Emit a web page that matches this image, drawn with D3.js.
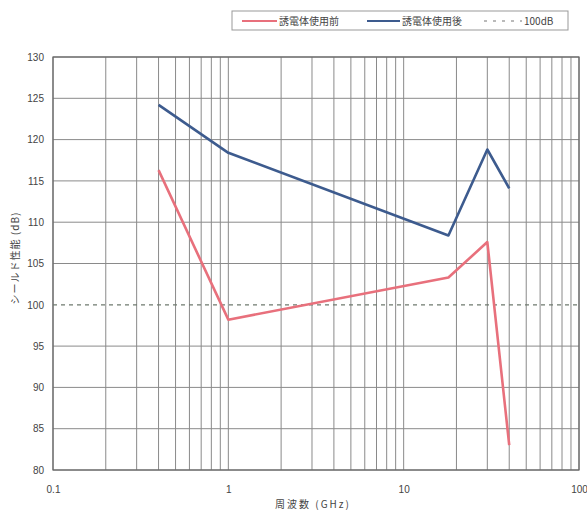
<!DOCTYPE html>
<html>
<head>
<meta charset="utf-8">
<script src="https://cdn.jsdelivr.net/npm/d3@7"></script>
<style>
  body { margin: 0; background: #fff; }
  svg { display: block; font-family: "Noto Sans CJK JP", "Liberation Sans", sans-serif; }
</style>
</head>
<body>
<svg id="chart" width="587" height="513"></svg>
<script>
// Frequencies (GHz) and shielding performance (dB)
const freqs = [0.4, 1, 18, 30, 40];
const before = [116.3, 98.2, 103.3, 107.6, 83.0];
const after = [124.2, 118.4, 108.4, 118.8, 114.1];
const refLevel = 100;
const yTicks = [80, 85, 90, 95, 100, 105, 110, 115, 120, 125, 130];
const xTickLabels = [0.1, 1, 10, 100];
const seriesNames = ["誘電体使用前", "誘電体使用後", "100dB"];

(function () {
  const svg = d3.select("#chart");
  const pl = 53, pr = 579, pt = 57, pb = 470;

  const x = d3.scaleLog().domain([0.1, 100]).range([pl, pr]);
  const y = d3.scaleLinear().domain([80, 130]).range([pb, pt]);

  const red = "#e8707c", blue = "#3d5b8e", grid = "#8a8a8a";

  // vertical grid: every minor decade step
  const minor = [];
  for (let d = 0.1; d < 100; d *= 10) {
    for (let k = 1; k <= 9; k++) minor.push(+(d * k).toPrecision(3));
  }
  minor.push(100);
  svg.append("g").selectAll("line").data(minor).join("line")
    .attr("x1", d => x(d)).attr("x2", d => x(d))
    .attr("y1", pt).attr("y2", pb)
    .attr("stroke", grid).attr("stroke-width", 1);

  // horizontal grid
  svg.append("g").selectAll("line").data(yTicks.filter(v => v !== refLevel)).join("line")
    .attr("x1", pl).attr("x2", pr)
    .attr("y1", d => y(d)).attr("y2", d => y(d))
    .attr("stroke", grid).attr("stroke-width", 1);

  // frame
  svg.append("rect").attr("x", pl).attr("y", pt)
    .attr("width", pr - pl).attr("height", pb - pt)
    .attr("fill", "none").attr("stroke", "#666").attr("stroke-width", 1.2);

  // 100 dB reference line
  svg.append("line")
    .attr("x1", pl).attr("x2", pr)
    .attr("y1", y(refLevel)).attr("y2", y(refLevel))
    .attr("stroke", "#6f7a6f").attr("stroke-width", 1.3)
    .attr("stroke-dasharray", "4,4");

  // y axis labels
  const yAxis = d3.axisLeft(y).tickValues(yTicks).tickSize(0).tickPadding(9);
  const gy = svg.append("g").attr("transform", `translate(${pl},0)`).call(yAxis);
  gy.select(".domain").remove();
  gy.selectAll("text").attr("font-size", 10).attr("fill", "#444")
    .attr("font-family", "Liberation Sans, sans-serif");

  // x axis labels
  const xAxis = d3.axisBottom(x).tickValues(xTickLabels).tickSize(0).tickPadding(16)
    .tickFormat(d => String(d));
  const gx = svg.append("g").attr("transform", `translate(0,${pb})`).call(xAxis);
  gx.select(".domain").remove();
  gx.selectAll("text").attr("font-size", 10).attr("fill", "#444")
    .attr("font-family", "Liberation Sans, sans-serif");

  // axis titles
  svg.append("text").attr("x", 313).attr("y", 508)
    .attr("text-anchor", "middle").attr("font-size", 10).attr("fill", "#444")
    .attr("letter-spacing", 2)
    .text("周波数 (GHz)");
  svg.append("text")
    .attr("transform", "translate(19,258) rotate(-90)")
    .attr("text-anchor", "middle").attr("font-size", 10).attr("fill", "#444")
    .attr("letter-spacing", 1)
    .text("シールド性能 (dB)");

  // series lines
  const line = d3.line().x(d => x(d[0])).y(d => y(d[1]));
  svg.append("path").datum(freqs.map((f, i) => [f, before[i]]))
    .attr("d", line).attr("fill", "none")
    .attr("stroke", red).attr("stroke-width", 2.6).attr("stroke-linejoin", "round");
  svg.append("path").datum(freqs.map((f, i) => [f, after[i]]))
    .attr("d", line).attr("fill", "none")
    .attr("stroke", blue).attr("stroke-width", 2.6).attr("stroke-linejoin", "round");

  // legend
  const lg = svg.append("g");
  lg.append("rect").attr("x", 232).attr("y", 11).attr("width", 336).attr("height", 19)
    .attr("fill", "#fff").attr("stroke", "#999").attr("stroke-width", 1);
  const items = [
    { name: seriesNames[0], color: red, x0: 242, x1: 277, dash: null, w: 2 },
    { name: seriesNames[1], color: blue, x0: 367, x1: 400, dash: null, w: 2 },
    { name: seriesNames[2], color: "#777", x0: 484, x1: 522, dash: "3,6", w: 1.2 }
  ];
  items.forEach(it => {
    lg.append("line").attr("x1", it.x0).attr("x2", it.x1).attr("y1", 21).attr("y2", 21)
      .attr("stroke", it.color).attr("stroke-width", it.w)
      .attr("stroke-dasharray", it.dash);
    lg.append("text").attr("x", it.x1 + 2).attr("y", 25)
      .attr("font-size", 10).attr("fill", "#444").text(it.name);
  });
})();
</script>
</body>
</html>
